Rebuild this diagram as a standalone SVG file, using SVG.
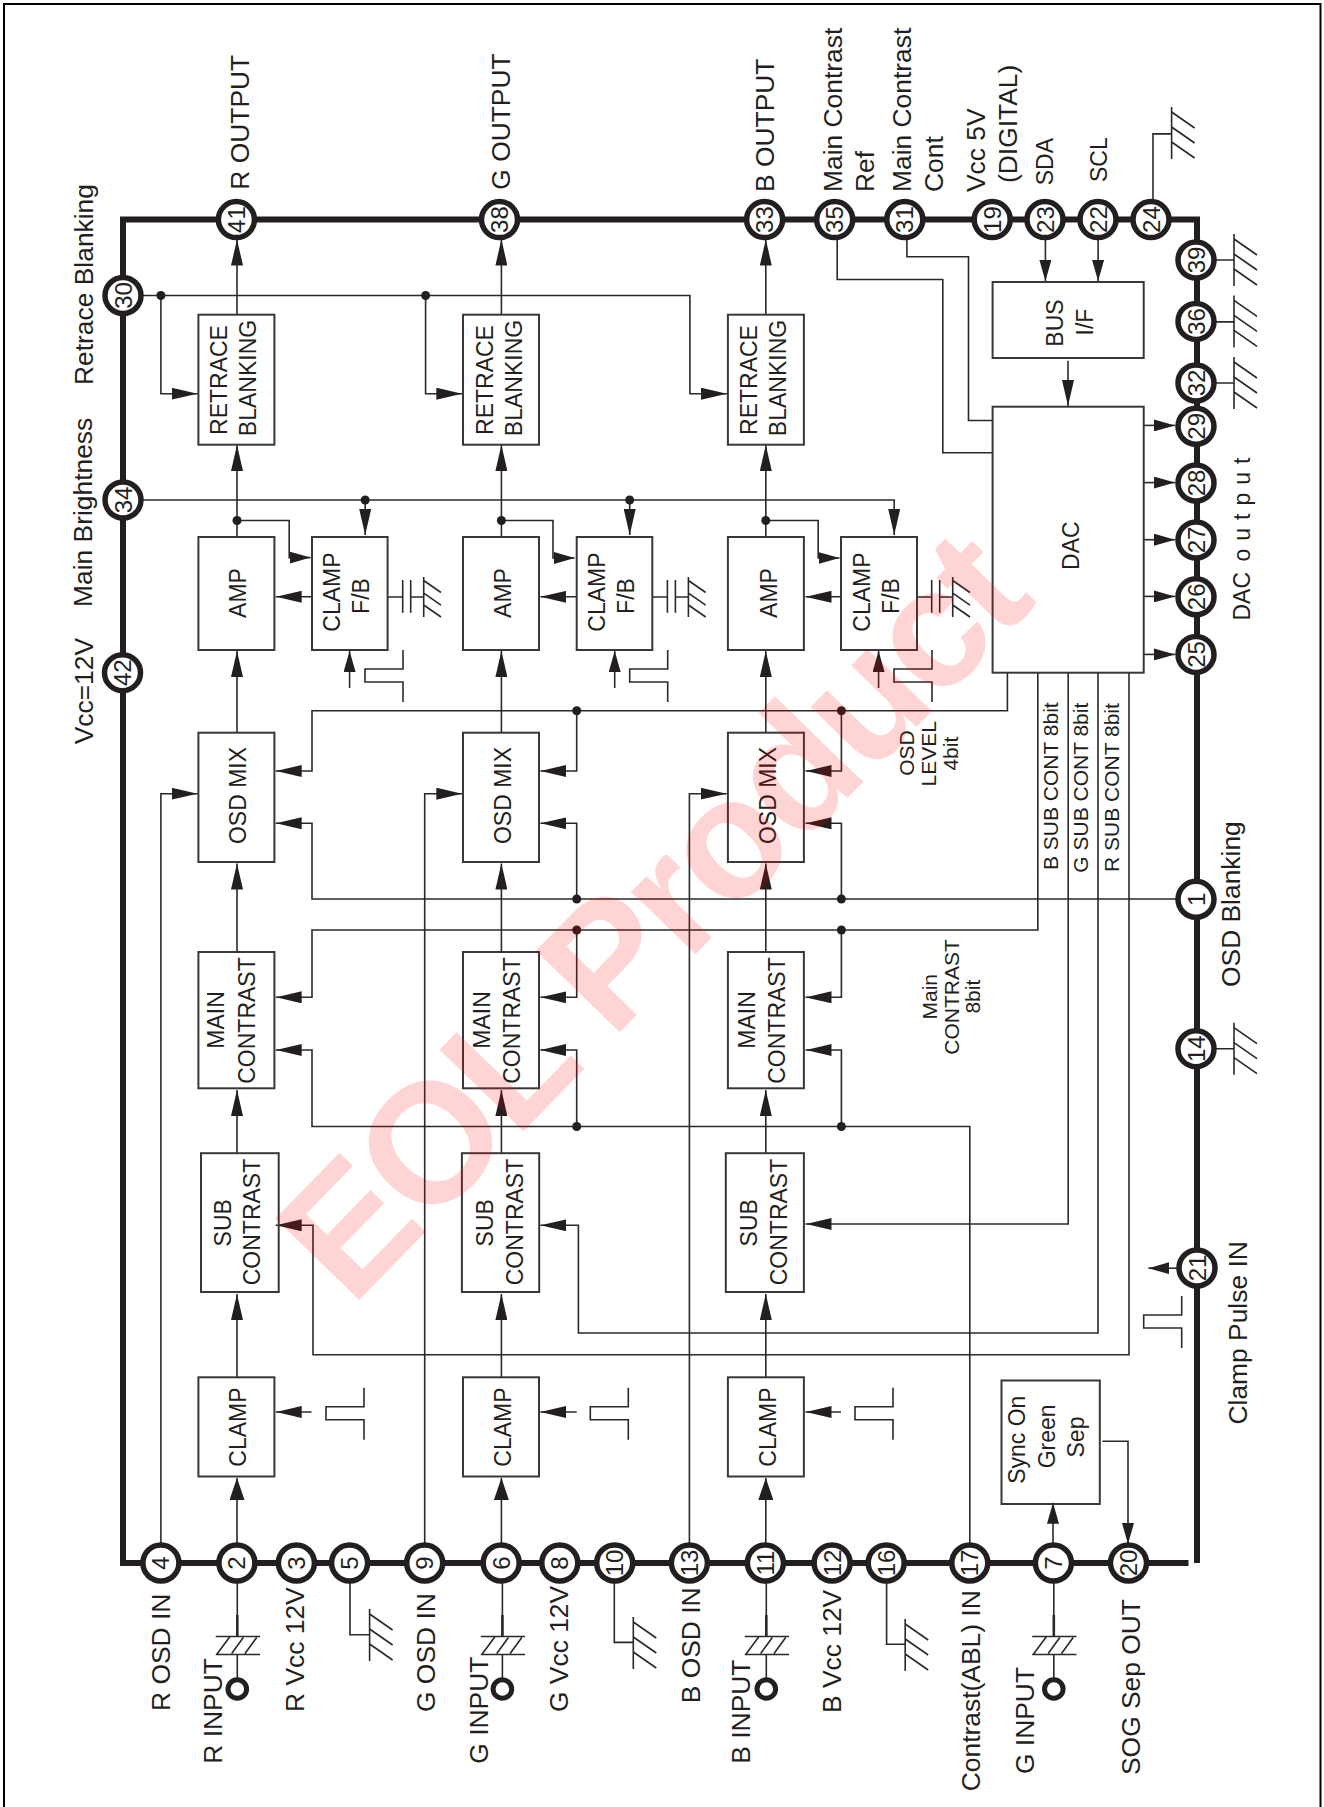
<svg xmlns="http://www.w3.org/2000/svg" width="1324" height="1807" viewBox="0 0 1324 1807">
<style>
text{font-family:"Liberation Sans",Arial,sans-serif;fill:#231f20}
.l{font-size:26.4px}
.t{font-size:23px}
.b{font-size:23px;text-anchor:middle}
.s{font-size:21px}
.sm{font-size:21px;text-anchor:middle}
.p{font-size:24px;text-anchor:middle}
.w{fill:none;stroke:#2b2829;stroke-width:1.6}
.a{marker-end:url(#a)}
.h{marker-end:url(#h)}
.c{marker-end:url(#c)}
.box{fill:none;stroke:#3a3738;stroke-width:2}
.pin{fill:#fff;stroke:#231f20;stroke-width:5.5}
.chip{fill:none;stroke:#231f20;stroke-width:6}
.dot{fill:#231f20}
</style>
<defs>
<marker id="a" markerUnits="userSpaceOnUse" viewBox="0 0 26 12" refX="26" refY="6" markerWidth="26" markerHeight="12" orient="auto"><path d="M0 0L26 6L0 12Z" fill="#231f20"/></marker>
<marker id="h" markerUnits="userSpaceOnUse" viewBox="0 0 21 12" refX="21" refY="6" markerWidth="21" markerHeight="12" orient="auto"><path d="M0 0L21 6L0 12Z" fill="#231f20"/></marker>
<marker id="c" markerUnits="userSpaceOnUse" viewBox="0 0 22 15" refX="22" refY="7.5" markerWidth="22" markerHeight="15" orient="auto"><path d="M0 0L22 7.5L0 15Z" fill="#231f20"/></marker>
<g id="gnd" class="w"><path d="M0-26V26M0-21L23-5M0-6L23 10M0 9L23 25"/></g>
<g id="gnds" class="w"><path d="M-15.1 0H0M8 0H21M0-17V15.7M8-17V15.7M21-20V20M21-16.5L38.3-4.5M21-3.8L38.3 8.2M21 8L38.3 20"/></g>
<g id="inp" class="w"><path d="M0-74V-20.5"/><path d="M0-41V-20" stroke-width="2.6"/><path d="M-21.6-19.5H22.7M-21.6-1.5H22.7M-20.6-1.5L-7.3-19.5M-5.6-2.5L6-18.5M7.7-2.5L19.4-18.5M0-1.5V24"/><circle cx="0" cy="33" r="9.3" stroke-width="5" fill="#fff" stroke="#231f20"/></g>
<path id="pulse" class="w" d="M0 0V19H-38V32H0V52"/>
</defs>
<rect width="1324" height="1807" fill="#fff"/>
<rect x="4" y="4" width="1316.5" height="1830" fill="none" stroke="#000" stroke-width="2"/>
<path id="chip" class="chip" d="M1188.5 1563H123V219.6H1197V1563"/>

<g id="connectors">
<path class="w a" d="M237 314.7V239.5"/><path class="w a" d="M237 537V445"/><path class="w a" d="M237 732.7V651"/><path class="w a" d="M237 952V863.5"/><path class="w a" d="M237 1153V1090"/><path class="w a" d="M237 1377V1294"/><path class="w c" d="M237 1543V1478"/>
<path class="w a" d="M501.4 314.7V239.5"/><path class="w a" d="M501.4 537V445"/><path class="w a" d="M501.4 732.7V651"/><path class="w a" d="M501.4 952V863.5"/><path class="w a" d="M501.4 1153V1090"/><path class="w a" d="M501.4 1377V1294"/><path class="w c" d="M501.4 1543V1478"/>
<path class="w a" d="M765.8 314.7V239.5"/><path class="w a" d="M765.8 537V445"/><path class="w a" d="M765.8 732.7V651"/><path class="w a" d="M765.8 952V863.5"/><path class="w a" d="M765.8 1153V1090"/><path class="w a" d="M765.8 1377V1294"/><path class="w c" d="M765.8 1543V1478"/>
<path class="w h" d="M237 520.5H289.2V557.6H310.5"/><path class="w h" d="M501.4 520.5H553V558H574.6"/><path class="w h" d="M765.8 520.5H818.2V558H839.5"/>
<path class="w a" d="M312 596.8H275.7"/><path class="w a" d="M576.7 596.8H540.4"/><path class="w a" d="M841 596.8H805.5"/>
<path class="w h" d="M349.6 688V651"/><path class="w h" d="M614.7 688V651"/><path class="w h" d="M878.6 688V651"/>
<path class="w a" d="M123 295.5H689.9V393.7H727"/><path class="w a" d="M160.9 295.5V393.7H197.6"/><path class="w a" d="M425.6 295.5V393.7H462.3"/>
<path class="w a" d="M123 500H894.2V535"/><path class="w a" d="M365.2 500V535"/><path class="w a" d="M629.7 500V535"/>
<path class="w a" d="M160.9 1543V793.7H197.6"/><path class="w a" d="M424.7 1543V793.7H462.3"/><path class="w a" d="M689.4 1543V793.7H726.6"/>
<path class="w a" d="M1007.4 672.7V710.7H312V771H275.7"/><path class="w a" d="M576.7 710.7V771H540.4"/><path class="w a" d="M841.4 710.7V771H805.5"/>
<path class="w a" d="M1176 899H312V823.3H275.7"/><path class="w a" d="M576.7 899V823.3H540.4"/><path class="w a" d="M841.4 899V823.3H805.5"/>
<path class="w a" d="M1037.8 672.7V930H312V997.3H275.7"/><path class="w a" d="M576.7 930V997.3H540.4"/><path class="w a" d="M841.4 930V997.3H805.5"/>
<path class="w a" d="M969.8 1543V1126.5H312V1050H275.7"/><path class="w a" d="M576.7 1126.5V1050H540.4"/><path class="w a" d="M841.4 1126.5V1050H805.5"/>
<path class="w a" d="M1068.2 672.7V1224H805.5"/><path class="w a" d="M1098 672.7V1333H578.4V1225.3H540.4"/><path class="w a" d="M1129 672.7V1354.8H313V1225.3H275.7"/>
<path class="w a" d="M311.6 1412H275.7"/><path class="w a" d="M576.7 1412H540.4"/><path class="w a" d="M841 1412H805.5"/>
<path class="w" d="M837.2 240V279.5H942.8V452.7H992.6"/><path class="w" d="M906.9 239V256.7H968.5V420.5H992.6"/>
<path class="w h" d="M1045.4 240V281"/><path class="w h" d="M1098.1 240V281"/><path class="w a" d="M1068 360.7V406"/>
<path class="w h" d="M1143.7 425.4H1175"/><path class="w h" d="M1143.7 482.6H1175"/><path class="w h" d="M1143.7 539.7H1175"/><path class="w h" d="M1143.7 596.4H1175"/><path class="w h" d="M1143.7 654.4H1175"/>
<path class="w h" d="M1053 1543V1502.7"/><path class="w h" d="M1102.4 1441.3H1128V1544"/><path class="w h" d="M1177 1268.2H1148.4"/>
<path class="w" d="M350 1582V1634.8H369.6"/><path class="w" d="M614.3 1582V1642.4H633.3"/><path class="w" d="M886.6 1582V1644.2H905.2"/><path class="w" d="M1153 200V133.9H1171.6"/>
<path class="w" d="M1216 260H1234M1216 321.9H1234M1216 383H1234M1216 1048.7H1234"/>
<circle class="dot" cx="160.9" cy="295.5" r="4.5"/><circle class="dot" cx="425.6" cy="295.5" r="4.5"/><circle class="dot" cx="365.2" cy="500" r="4.5"/><circle class="dot" cx="629.7" cy="500" r="4.5"/><circle class="dot" cx="237" cy="520.5" r="4.5"/><circle class="dot" cx="501.4" cy="520.5" r="4.5"/><circle class="dot" cx="765.8" cy="520.5" r="4.5"/><circle class="dot" cx="576.7" cy="710.7" r="4.5"/><circle class="dot" cx="841.4" cy="710.7" r="4.5"/><circle class="dot" cx="576.7" cy="899" r="4.5"/><circle class="dot" cx="841.4" cy="899" r="4.5"/><circle class="dot" cx="576.7" cy="930" r="4.5"/><circle class="dot" cx="841.4" cy="930" r="4.5"/><circle class="dot" cx="576.7" cy="1126.5" r="4.5"/><circle class="dot" cx="841.4" cy="1126.5" r="4.5"/>
</g>

<g id="symbols">
<use href="#gnds" x="402.7" y="597"/><use href="#gnds" x="667.4" y="597"/><use href="#gnds" x="931.7" y="597"/>
<use href="#pulse" x="403" y="650"/><use href="#pulse" x="667.7" y="650"/><use href="#pulse" x="932" y="650"/>
<use href="#pulse" x="364" y="1387.7"/><use href="#pulse" x="628.3" y="1387.7"/><use href="#pulse" x="893" y="1387.7"/>
<use href="#pulse" x="1181.7" y="1296"/>
<use href="#gnd" x="369.6" y="1635"/><use href="#gnd" x="633.3" y="1643"/><use href="#gnd" x="905.2" y="1645"/><use href="#gnd" x="1171.6" y="133"/>
<use href="#gnd" x="1234" y="260"/><use href="#gnd" x="1234" y="321.4"/><use href="#gnd" x="1234" y="383"/><use href="#gnd" x="1234" y="1048.7"/>
<use href="#inp" x="237.3" y="1656"/><use href="#inp" x="502.4" y="1656"/><use href="#inp" x="766.3" y="1656"/><use href="#inp" x="1053.8" y="1656"/>
</g>

<g id="retrace-r"><rect class="box" x="198.4" y="314.7" width="76" height="130"/><text class="b" transform="translate(227,380) rotate(-90)">RETRACE</text><text class="b" transform="translate(256.3,378) rotate(-90)">BLANKING</text></g>
<g id="retrace-g"><rect class="box" x="463" y="314.7" width="76" height="130"/><text class="b" transform="translate(492.5,380) rotate(-90)">RETRACE</text><text class="b" transform="translate(522,378) rotate(-90)">BLANKING</text></g>
<g id="retrace-b"><rect class="box" x="727.9" y="314.7" width="76" height="130"/><text class="b" transform="translate(756.5,380) rotate(-90)">RETRACE</text><text class="b" transform="translate(786,378) rotate(-90)">BLANKING</text></g>
<g id="amp-r"><rect class="box" x="198.4" y="537" width="76" height="113"/><text class="b" transform="translate(246,593) rotate(-90)">AMP</text></g>
<g id="amp-g"><rect class="box" x="463" y="537" width="76" height="113"/><text class="b" transform="translate(511,593) rotate(-90)">AMP</text></g>
<g id="amp-b"><rect class="box" x="727.9" y="537" width="76" height="113"/><text class="b" transform="translate(776.5,593) rotate(-90)">AMP</text></g>
<g id="clampfb-r"><rect class="box" x="312" y="537" width="75.6" height="113"/><text class="b" transform="translate(340,592) rotate(-90)">CLAMP</text><text class="b" transform="translate(369.4,596) rotate(-90)">F/B</text></g>
<g id="clampfb-g"><rect class="box" x="576.7" y="537" width="75.6" height="113"/><text class="b" transform="translate(605,592) rotate(-90)">CLAMP</text><text class="b" transform="translate(634.4,596) rotate(-90)">F/B</text></g>
<g id="clampfb-b"><rect class="box" x="841" y="537" width="76" height="113"/><text class="b" transform="translate(869.5,592) rotate(-90)">CLAMP</text><text class="b" transform="translate(899,596) rotate(-90)">F/B</text></g>
<g id="osd-r"><rect class="box" x="198.4" y="732.7" width="76" height="129.3"/><text class="b" transform="translate(246,795.5) rotate(-90)">OSD MIX</text></g>
<g id="osd-g"><rect class="box" x="463" y="732.7" width="76" height="129.3"/><text class="b" transform="translate(511,795.5) rotate(-90)">OSD MIX</text></g>
<g id="osd-b"><rect class="box" x="727.9" y="732.7" width="76" height="129.3"/><text class="b" transform="translate(775.5,795.5) rotate(-90)">OSD MIX</text></g>
<g id="main-r"><rect class="box" x="198.4" y="952" width="76" height="136.3"/><text class="b" transform="translate(223.8,1020) rotate(-90)">MAIN</text><text class="b" transform="translate(255.4,1020.5) rotate(-90)">CONTRAST</text></g>
<g id="main-g"><rect class="box" x="463" y="952" width="76" height="136.3"/><text class="b" transform="translate(489.8,1020) rotate(-90)">MAIN</text><text class="b" transform="translate(520,1020.5) rotate(-90)">CONTRAST</text></g>
<g id="main-b"><rect class="box" x="727.9" y="952" width="76" height="136.3"/><text class="b" transform="translate(754.5,1020) rotate(-90)">MAIN</text><text class="b" transform="translate(785,1020.5) rotate(-90)">CONTRAST</text></g>
<g id="sub-r"><rect class="box" x="201" y="1153.2" width="77.7" height="138.8"/><text class="b" transform="translate(231,1222.8) rotate(-90)">SUB</text><text class="b" transform="translate(259.7,1222) rotate(-90)">CONTRAST</text></g>
<g id="sub-g"><rect class="box" x="461.9" y="1153.2" width="77.3" height="138.8"/><text class="b" transform="translate(492.7,1222.8) rotate(-90)">SUB</text><text class="b" transform="translate(522.7,1222) rotate(-90)">CONTRAST</text></g>
<g id="sub-b"><rect class="box" x="725.8" y="1153.2" width="78.1" height="138.8"/><text class="b" transform="translate(757.4,1222.8) rotate(-90)">SUB</text><text class="b" transform="translate(787.4,1222) rotate(-90)">CONTRAST</text></g>
<g id="clamp-r"><rect class="box" x="198.4" y="1377.3" width="76" height="99.2"/><text class="b" transform="translate(246,1427) rotate(-90)">CLAMP</text></g>
<g id="clamp-g"><rect class="box" x="463" y="1377.3" width="76" height="99.2"/><text class="b" transform="translate(511,1427) rotate(-90)">CLAMP</text></g>
<g id="clamp-b"><rect class="box" x="727.9" y="1377.3" width="76" height="99.2"/><text class="b" transform="translate(776,1427) rotate(-90)">CLAMP</text></g>
<g id="bus"><rect class="box" x="992.6" y="282" width="151.1" height="76"/><text class="b" transform="translate(1063.1,323) rotate(-90)">BUS</text><text class="b" transform="translate(1092.6,322) rotate(-90)">I/F</text></g>
<g id="dac"><rect class="box" x="992.6" y="406.7" width="151.1" height="266"/><text class="b" transform="translate(1079.1,545.7) rotate(-90)">DAC</text></g>
<g id="sog"><rect class="box" x="1001.5" y="1380.5" width="98.3" height="123.5"/><text class="b" transform="translate(1025,1439.7) rotate(-90)">Sync On</text><text class="b" transform="translate(1054.6,1436.4) rotate(-90)">Green</text><text class="b" transform="translate(1084.2,1437) rotate(-90)">Sep</text></g>

<g id="pins">
<g id="pin-41"><circle class="pin" cx="236.4" cy="219.6" r="18"/><text class="p" transform="translate(244.9,219.6) rotate(-90)">41</text></g>
<g id="pin-38"><circle class="pin" cx="499.5" cy="219.6" r="18"/><text class="p" transform="translate(508,219.6) rotate(-90)">38</text></g>
<g id="pin-33"><circle class="pin" cx="764.6" cy="219.6" r="18"/><text class="p" transform="translate(773.1,219.6) rotate(-90)">33</text></g>
<g id="pin-35"><circle class="pin" cx="834.7" cy="219.6" r="18"/><text class="p" transform="translate(843.2,219.6) rotate(-90)">35</text></g>
<g id="pin-31"><circle class="pin" cx="904.8" cy="219.6" r="18"/><text class="p" transform="translate(913.3,219.6) rotate(-90)">31</text></g>
<g id="pin-19"><circle class="pin" cx="992.2" cy="219.6" r="18"/><text class="p" transform="translate(1000.7,219.6) rotate(-90)">19</text></g>
<g id="pin-23"><circle class="pin" cx="1045" cy="219.6" r="18"/><text class="p" transform="translate(1053.5,219.6) rotate(-90)">23</text></g>
<g id="pin-22"><circle class="pin" cx="1098" cy="219.6" r="18"/><text class="p" transform="translate(1106.5,219.6) rotate(-90)">22</text></g>
<g id="pin-24"><circle class="pin" cx="1151" cy="219.6" r="18"/><text class="p" transform="translate(1159.5,219.6) rotate(-90)">24</text></g>
<g id="pin-30"><circle class="pin" cx="123" cy="295.5" r="18"/><text class="p" transform="translate(131.5,295.5) rotate(-90)">30</text></g>
<g id="pin-34"><circle class="pin" cx="123" cy="500" r="18"/><text class="p" transform="translate(131.5,500) rotate(-90)">34</text></g>
<g id="pin-42"><circle class="pin" cx="122.5" cy="672.7" r="18"/><text class="p" transform="translate(131,672.7) rotate(-90)">42</text></g>
<g id="pin-39"><circle class="pin" cx="1196" cy="260" r="18"/><text class="p" transform="translate(1204.5,260) rotate(-90)">39</text></g>
<g id="pin-36"><circle class="pin" cx="1196" cy="321.4" r="18"/><text class="p" transform="translate(1204.5,321.4) rotate(-90)">36</text></g>
<g id="pin-32"><circle class="pin" cx="1196" cy="383" r="18"/><text class="p" transform="translate(1204.5,383) rotate(-90)">32</text></g>
<g id="pin-29"><circle class="pin" cx="1196" cy="426.3" r="18"/><text class="p" transform="translate(1204.5,426.3) rotate(-90)">29</text></g>
<g id="pin-28"><circle class="pin" cx="1196" cy="483" r="18"/><text class="p" transform="translate(1204.5,483) rotate(-90)">28</text></g>
<g id="pin-27"><circle class="pin" cx="1196" cy="540" r="18"/><text class="p" transform="translate(1204.5,540) rotate(-90)">27</text></g>
<g id="pin-26"><circle class="pin" cx="1196" cy="596.8" r="18"/><text class="p" transform="translate(1204.5,596.8) rotate(-90)">26</text></g>
<g id="pin-25"><circle class="pin" cx="1196" cy="654.4" r="18"/><text class="p" transform="translate(1204.5,654.4) rotate(-90)">25</text></g>
<g id="pin-1"><circle class="pin" cx="1196" cy="899.3" r="18"/><text class="p" transform="translate(1204.5,899.3) rotate(-90)">1</text></g>
<g id="pin-14"><circle class="pin" cx="1196" cy="1048.7" r="18"/><text class="p" transform="translate(1204.5,1048.7) rotate(-90)">14</text></g>
<g id="pin-21"><circle class="pin" cx="1197" cy="1268" r="18"/><text class="p" transform="translate(1205.5,1268) rotate(-90)">21</text></g>
<g id="pin-4"><circle class="pin" cx="160.9" cy="1563" r="18"/><text class="p" transform="translate(169.4,1563) rotate(-90)">4</text></g>
<g id="pin-2"><circle class="pin" cx="236.9" cy="1563" r="18"/><text class="p" transform="translate(245.4,1563) rotate(-90)">2</text></g>
<g id="pin-3"><circle class="pin" cx="296.4" cy="1563" r="18"/><text class="p" transform="translate(304.9,1563) rotate(-90)">3</text></g>
<g id="pin-5"><circle class="pin" cx="349.6" cy="1563" r="18"/><text class="p" transform="translate(358.1,1563) rotate(-90)">5</text></g>
<g id="pin-9"><circle class="pin" cx="424.7" cy="1563" r="18"/><text class="p" transform="translate(433.2,1563) rotate(-90)">9</text></g>
<g id="pin-6"><circle class="pin" cx="501.2" cy="1563" r="18"/><text class="p" transform="translate(509.7,1563) rotate(-90)">6</text></g>
<g id="pin-8"><circle class="pin" cx="559.8" cy="1563" r="18"/><text class="p" transform="translate(568.3,1563) rotate(-90)">8</text></g>
<g id="pin-10"><circle class="pin" cx="614.7" cy="1563" r="18"/><text class="p" transform="translate(623.2,1563) rotate(-90)">10</text></g>
<g id="pin-13"><circle class="pin" cx="689.4" cy="1563" r="18"/><text class="p" transform="translate(697.9,1563) rotate(-90)">13</text></g>
<g id="pin-11"><circle class="pin" cx="765.4" cy="1563" r="18"/><text class="p" transform="translate(773.9,1563) rotate(-90)">11</text></g>
<g id="pin-12"><circle class="pin" cx="832.1" cy="1563" r="18"/><text class="p" transform="translate(840.6,1563) rotate(-90)">12</text></g>
<g id="pin-16"><circle class="pin" cx="886.2" cy="1563" r="18"/><text class="p" transform="translate(894.7,1563) rotate(-90)">16</text></g>
<g id="pin-17"><circle class="pin" cx="969.8" cy="1563" r="18"/><text class="p" transform="translate(978.3,1563) rotate(-90)">17</text></g>
<g id="pin-7"><circle class="pin" cx="1053.4" cy="1563" r="18"/><text class="p" transform="translate(1061.9,1563) rotate(-90)">7</text></g>
<g id="pin-20"><circle class="pin" cx="1128.5" cy="1563" r="18"/><text class="p" transform="translate(1137,1563) rotate(-90)">20</text></g>
</g>

<g id="labels">
<text class="l" transform="translate(93,385) rotate(-90)">Retrace Blanking</text>
<text class="l" transform="translate(92,607) rotate(-90)">Main Brightness</text>
<text class="l" transform="translate(93,744.3) rotate(-90)">Vcc=12V</text>
<text class="l" transform="translate(249,189.7) rotate(-90)">R OUTPUT</text>
<text class="l" transform="translate(510,189.7) rotate(-90)">G OUTPUT</text>
<text class="l" transform="translate(774.3,192) rotate(-90)">B OUTPUT</text>
<text class="l" transform="translate(842.3,192) rotate(-90)">Main Contrast</text>
<text class="l" transform="translate(874,192) rotate(-90)">Ref</text>
<text class="l" transform="translate(911,192) rotate(-90)">Main Contrast</text>
<text class="l" transform="translate(942.8,192) rotate(-90)">Cont</text>
<text class="l" transform="translate(985,192) rotate(-90)">Vcc 5V</text>
<text class="l" transform="translate(1017,183) rotate(-90)">(DIGITAL)</text>
<text class="t" transform="translate(1052.5,185.3) rotate(-90)">SDA</text>
<text class="t" transform="translate(1107.4,182) rotate(-90)">SCL</text>
<text class="t" transform="translate(1250,620.5) rotate(-90)">DAC<tspan dx="-4" letter-spacing="8"> output</tspan></text>
<text class="l" transform="translate(170,1711) rotate(-90)">R OSD IN</text>
<text class="l" transform="translate(221.7,1763.7) rotate(-90)">R INPUT</text>
<text class="l" transform="translate(304,1712) rotate(-90)">R Vcc 12V</text>
<text class="l" transform="translate(434.9,1712) rotate(-90)">G OSD IN</text>
<text class="l" transform="translate(487.7,1763.7) rotate(-90)">G INPUT</text>
<text class="l" transform="translate(567.9,1712) rotate(-90)">G Vcc 12V</text>
<text class="l" transform="translate(700,1703.3) rotate(-90)">B OSD IN</text>
<text class="l" transform="translate(749.8,1763.7) rotate(-90)">B INPUT</text>
<text class="l" transform="translate(841.4,1713) rotate(-90)">B Vcc 12V</text>
<text class="l" transform="translate(979.5,1791.2) rotate(-90)">Contrast(ABL) IN</text>
<text class="l" transform="translate(1033.5,1774) rotate(-90)">G INPUT</text>
<text class="l" transform="translate(1140.4,1775) rotate(-90)">SOG Sep OUT</text>
<text class="l" transform="translate(1246.8,1424.5) rotate(-90)">Clamp Pulse IN</text>
<text class="l" transform="translate(1240.4,987) rotate(-90)">OSD Blanking</text>
<text class="sm" transform="translate(914,753) rotate(-90)">OSD</text>
<text class="sm" transform="translate(936.4,753.7) rotate(-90)">LEVEL</text>
<text class="sm" transform="translate(957.5,753.7) rotate(-90)">4bit</text>
<text class="sm" transform="translate(937.3,996.7) rotate(-90)">Main</text>
<text class="sm" transform="translate(958.8,997) rotate(-90)">CONTRAST</text>
<text class="sm" transform="translate(979.5,996.7) rotate(-90)">8bit</text>
<text class="s" transform="translate(1058,870) rotate(-90)">B SUB CONT 8bit</text>
<text class="s" transform="translate(1088.4,872.7) rotate(-90)">G SUB CONT 8bit</text>
<text class="s" transform="translate(1119.3,872) rotate(-90)">R SUB CONT 8bit</text>
</g>

<g id="watermark"><text transform="translate(351.3,1308.3) rotate(-45.8)" letter-spacing="-5" style="font-size:170px;font-weight:bold;fill:#ff0000;fill-opacity:.17">EOL Product</text></g>
</svg>
